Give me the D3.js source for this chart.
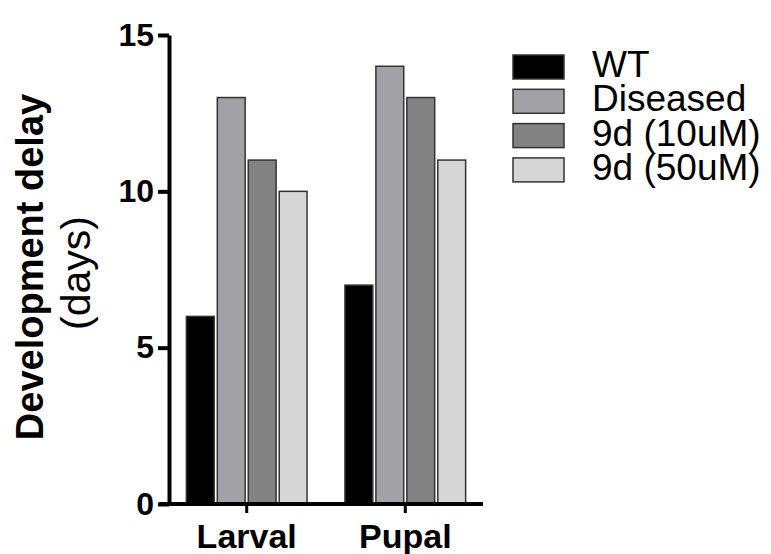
<!DOCTYPE html>
<html>
<head>
<meta charset="utf-8">
<script src="https://cdn.jsdelivr.net/npm/d3@7"></script>
<style>
  html, body { margin: 0; padding: 0; background: #fff; }
  svg { display: block; font-family: Arial, "Liberation Sans", sans-serif; }
</style>
</head>
<body>
<svg id="chart" width="771" height="554"></svg>
<script>
// Development delay per stage and treatment
const stages = ["Larval", "Pupal"];
const groups = ["WT", "Diseased", "9d (10uM)", "9d (50uM)"];
const wtValues = [6, 7];
const diseasedValues = [13, 14];
const low9dValues = [11, 13];
const high9dValues = [10, 11];
const yTicks = [0, 5, 10, 15];

const fills = ["#000000", "#a1a1a6", "#828282", "#d6d6d6"];
const series = [wtValues, diseasedValues, low9dValues, high9dValues];

const rows = stages.map((s, i) => ({
  stage: s,
  values: groups.map((g, j) => ({ group: g, value: series[j][i] }))
}));

const svg = d3.select("#chart");
const plotLeft = 169, plotRight = 483, plotTop = 35, plotBottom = 504;

const y = d3.scaleLinear().domain([0, 15]).range([plotBottom, plotTop]);
const x0 = d3.scaleBand().domain(stages).range([plotLeft, plotRight])
  .paddingInner(0.2).paddingOuter(0.09);
const x1 = d3.scaleBand().domain(groups).range([0, x0.bandwidth()]).padding(0.1);
const color = d3.scaleOrdinal().domain(groups).range(fills);

// bars
const g = svg.append("g");
g.selectAll("g.stage").data(rows).join("g")
  .attr("class", "stage")
  .attr("transform", d => `translate(${x0(d.stage)},0)`)
  .selectAll("rect").data(d => d.values).join("rect")
  .attr("x", d => x1(d.group))
  .attr("y", d => y(d.value))
  .attr("width", x1.bandwidth())
  .attr("height", d => y(0) - y(d.value))
  .attr("fill", d => color(d.group))
  .attr("stroke", "#333")
  .attr("stroke-width", 1.5);

// y axis
const yAxis = svg.append("g")
  .attr("transform", `translate(${plotLeft},0)`)
  .call(d3.axisLeft(y).tickValues(yTicks).tickSize(11).tickPadding(4).tickSizeOuter(0));
yAxis.select(".domain").attr("stroke", "#000").attr("stroke-width", 4);
yAxis.selectAll(".tick line").attr("stroke", "#000").attr("stroke-width", 4);
yAxis.selectAll(".tick text").attr("font-size", 32).attr("font-weight", "bold")
  .attr("fill", "#000").attr("font-family", "Arial, 'Liberation Sans', sans-serif");

// x axis
const xAxis = svg.append("g")
  .attr("transform", `translate(0,${plotBottom})`)
  .call(d3.axisBottom(x0).tickSize(9).tickPadding(11).tickSizeOuter(0));
xAxis.select(".domain").attr("stroke", "#000").attr("stroke-width", 4)
  .attr("d", `M${plotLeft - 10},0H${plotRight}`);
xAxis.selectAll(".tick line").attr("stroke", "#000").attr("stroke-width", 3);
xAxis.selectAll(".tick text").attr("font-size", 34).attr("font-weight", "bold")
  .attr("fill", "#000").attr("font-family", "Arial, 'Liberation Sans', sans-serif");

// y axis title, two lines
svg.append("text")
  .attr("transform", "translate(43,267) rotate(-90)")
  .attr("text-anchor", "middle")
  .attr("font-size", 38)
  .attr("font-weight", "bold")
  .attr("fill", "#000")
  .text("Development delay");
svg.append("text")
  .attr("transform", "translate(90,273) rotate(-90)")
  .attr("text-anchor", "middle")
  .attr("font-size", 41)
  .attr("fill", "#000")
  .text("(days)");

// legend
const legend = svg.append("g").attr("transform", "translate(513,55)");
const item = legend.selectAll("g").data(groups).join("g")
  .attr("transform", (d, i) => `translate(0,${i * 34.3})`);
item.append("rect")
  .attr("width", 51).attr("height", 24)
  .attr("fill", d => color(d))
  .attr("stroke", "#333").attr("stroke-width", 1.5);
item.append("text")
  .attr("x", 79).attr("y", 22)
  .attr("font-size", 37)
  .attr("fill", "#000")
  .text(d => d);
</script>
</body>
</html>
